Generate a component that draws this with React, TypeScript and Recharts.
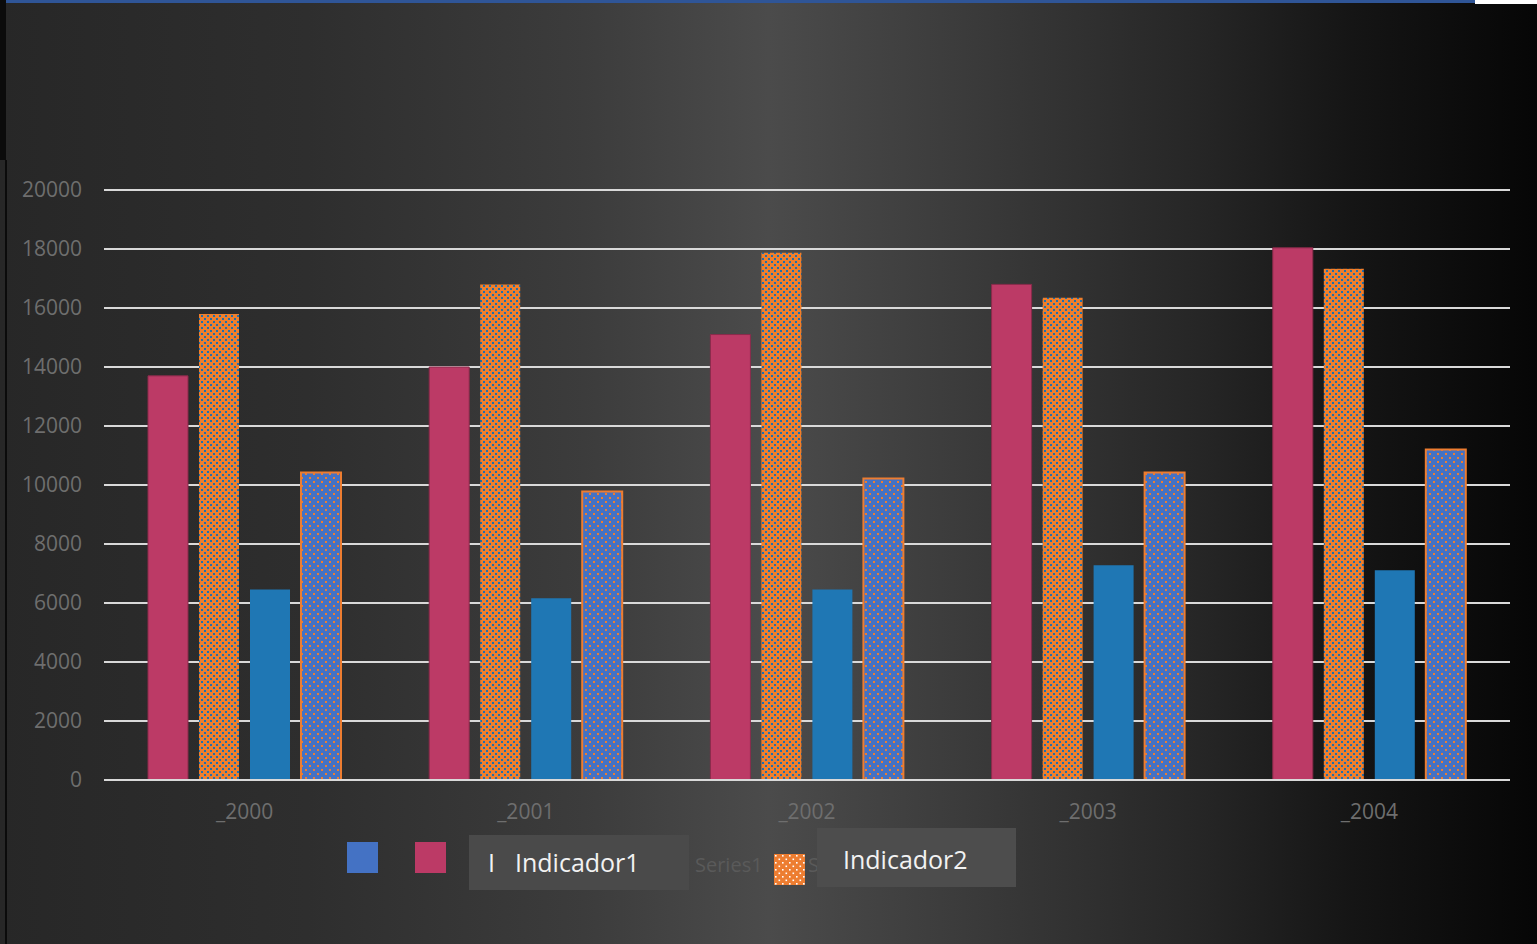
import React from "react";
import { BarChart, Bar, XAxis, YAxis, CartesianGrid } from "recharts";

const categories = ["_2000", "_2001", "_2002", "_2003", "_2004"];
const indicador1 = [13700, 14000, 15100, 16800, 18040];
const indicador2 = [15800, 16800, 17870, 16350, 17330];
const series1 = [6460, 6160, 6460, 7280, 7110];
const series2 = [10420, 9780, 10220, 10420, 11200];
const yTicks = [0, 2000, 4000, 6000, 8000, 10000, 12000, 14000, 16000, 18000, 20000];

const W = 1537;
const H = 944;
const FONT = "'Open Sans', sans-serif";

const chartData = categories.map((c, i) => ({
	year: c,
	indicador1: indicador1[i],
	indicador2: indicador2[i],
	series1: series1[i],
	series2: series2[i],
}));

const tickStyle = { fill: "#6e6e6e", fontSize: 21, fontFamily: FONT };

function LegendSwatch({ left, top, fill }: { left: number; top: number; fill: string }) {
	return (
		<div
			style={{ position: "absolute", left, top, width: 31, height: 31, background: fill }}
		/>
	);
}

function LegendText({
	left,
	top,
	size,
	color,
	children,
}: {
	left: number;
	top: number;
	size: number;
	color: string;
	children: React.ReactNode;
}) {
	return (
		<div
			style={{
				position: "absolute",
				left,
				top,
				fontSize: size,
				color,
				lineHeight: `${Math.round(size * 1.36)}px`,
				whiteSpace: "nowrap",
			}}
		>
			{children}
		</div>
	);
}

export default function App() {
	return (
		<div
			style={{
				position: "absolute",
				left: 0,
				top: 0,
				width: W,
				height: H,
				overflow: "hidden",
				background:
					"linear-gradient(to right, #272727 0%, #2e2e2e 20%, #3c3c3c 38%, #4b4b4b 50%, #3c3c3c 62%, #262626 78%, #151515 88%, #060606 100%)",
				fontFamily: FONT,
			}}
		>
			{/* window edges */}
			<div style={{ position: "absolute", left: 0, top: 0, width: 6, height: 160, background: "#0b0b0b" }} />
			<div style={{ position: "absolute", left: 5, top: 160, width: 2, height: H - 160, background: "#0b0b0b" }} />
			<div style={{ position: "absolute", left: 6, top: 0, width: 1469, height: 3, background: "#2f5597" }} />
			<div style={{ position: "absolute", left: 1475, top: 0, width: 62, height: 4, background: "#ffffff" }} />

			<div style={{ position: "absolute", left: 0, top: 0 }}>
				<BarChart
					width={W}
					height={H}
					data={chartData}
					margin={{ top: 190, right: 27, bottom: 124, left: 0 }}
					barCategoryGap={44}
					barGap={11}
				>
					<defs>
						<pattern id="dotOrange" width="6" height="6" patternUnits="userSpaceOnUse">
							<rect width="6" height="6" fill="#f07f2c" />
							<rect x="0" y="0" width="2" height="2" fill="#1f6fae" />
							<rect x="3" y="3" width="2" height="2" fill="#1f6fae" />
						</pattern>
						<pattern id="dotBlue" width="8" height="8" patternUnits="userSpaceOnUse">
							<rect width="8" height="8" fill="#4472c4" />
							<rect x="1" y="1" width="2" height="2" fill="#ed7d31" />
							<rect x="5" y="5" width="2" height="2" fill="#ed7d31" />
						</pattern>
					</defs>
					<CartesianGrid vertical={false} stroke="#d9d9d9" strokeWidth={2} />
					<XAxis
						dataKey="year"
						height={40}
						axisLine={{ stroke: "#d9d9d9", strokeWidth: 2 }}
						tickLine={false}
						tickSize={0}
						tickMargin={24}
						tick={tickStyle}
					/>
					<YAxis
						domain={[0, 20000]}
						ticks={yTicks}
						width={104}
						axisLine={false}
						tickLine={false}
						tickSize={0}
						tickMargin={22}
						tick={tickStyle}
					/>
					<Bar dataKey="indicador1" fill="#bc3a66" stroke="#8a2b4b" strokeWidth={1} isAnimationActive={false} />
					<Bar dataKey="indicador2" fill="url(#dotOrange)" isAnimationActive={false} />
					<Bar dataKey="series1" fill="#1f77b4" isAnimationActive={false} />
					<Bar
						dataKey="series2"
						fill="url(#dotBlue)"
						stroke="#ed7d31"
						strokeWidth={2}
						isAnimationActive={false}
					/>
				</BarChart>
			</div>

			{/* legend */}
			<LegendSwatch left={347} top={842} fill="#4472c4" />
			<LegendSwatch left={415} top={842} fill="#bc3a66" />
			<LegendText left={695} top={851} size={20} color="#5a5a5a">
				Series1
			</LegendText>
			<LegendText left={808} top={851} size={20} color="#5a5a5a">
				Se
			</LegendText>
			<svg style={{ position: "absolute", left: 774, top: 854 }} width={31} height={31}>
				<defs>
					<pattern id="legOrange" width="7" height="7" patternUnits="userSpaceOnUse">
						<rect width="7" height="7" fill="#ed7d31" />
						<rect x="1" y="1" width="1.6" height="1.6" fill="#ffffff" />
						<rect x="4.5" y="4.5" width="1.6" height="1.6" fill="#ffffff" />
					</pattern>
				</defs>
				<rect width={31} height={31} fill="url(#legOrange)" />
			</svg>
			<div
				style={{
					position: "absolute",
					left: 469,
					top: 835,
					width: 220,
					height: 55,
					background: "#4a4a4a",
				}}
			/>
			<LegendText left={488} top={845} size={25} color="#f2f2f2">
				I
			</LegendText>
			<LegendText left={515} top={845} size={25} color="#f2f2f2">
				Indicador1
			</LegendText>
			<div
				style={{
					position: "absolute",
					left: 817,
					top: 828,
					width: 199,
					height: 59,
					background: "#4d4d4d",
				}}
			/>
			<LegendText left={843} top={842} size={25} color="#f2f2f2">
				Indicador2
			</LegendText>
		</div>
	);
}
